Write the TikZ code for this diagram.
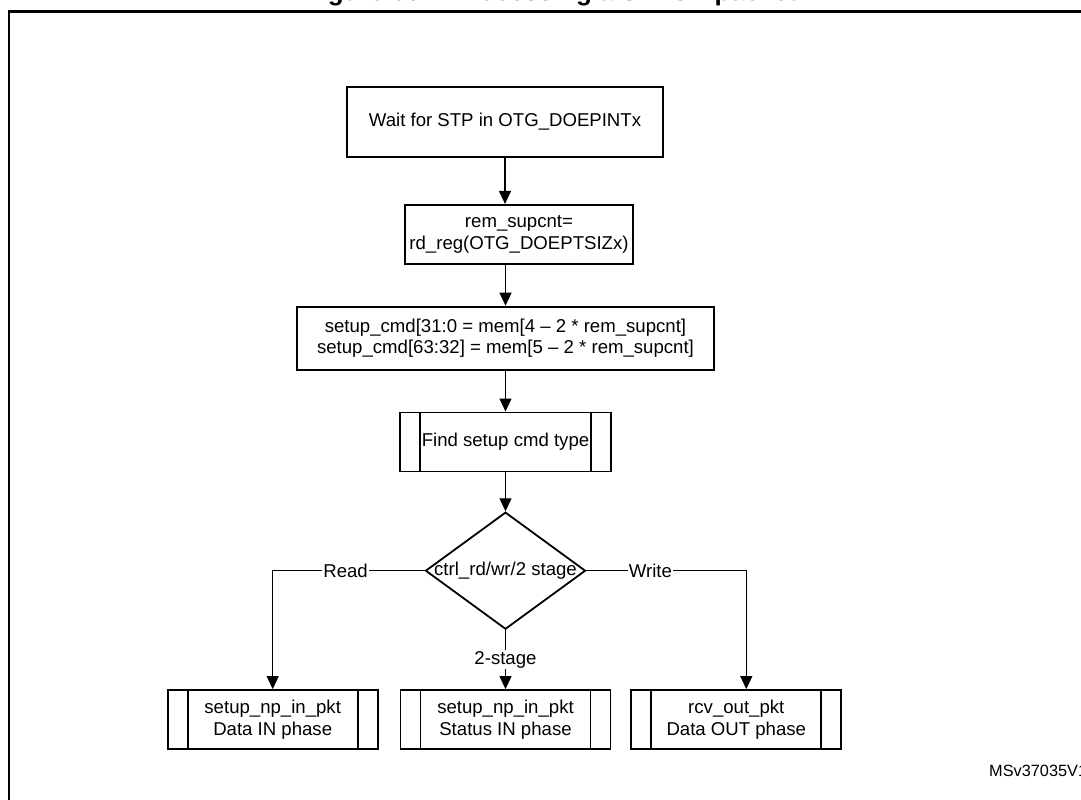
\documentclass[tikz,border=0pt]{standalone}
\usepackage{fontspec}
\setmainfont{Liberation Sans}
\usetikzlibrary{positioning,shapes.geometric,arrows.meta}
\tikzset{>={Triangle[width=12pt,length=13pt]}}
\tikzset{
  box/.style={draw,line width=1.8pt,align=center,inner sep=2pt,
    font=\fontsize{18.6}{21.5}\selectfont},
  subproc/.style={box,path picture={
    \draw[line width=1.8pt]
      ([xshift=20pt]path picture bounding box.north west) --
      ([xshift=20pt]path picture bounding box.south west)
      ([xshift=-20pt]path picture bounding box.north east) --
      ([xshift=-20pt]path picture bounding box.south east);}},
  decision/.style={diamond,draw,line width=1.8pt,inner sep=0pt,
    minimum width=160pt,minimum height=117pt,
    font=\fontsize{18.6}{21.5}\selectfont},
  flow/.style={->,line width=1.2pt},
  lbl/.style={fill=white,inner sep=1pt,font=\fontsize{18.6}{21.5}\selectfont}
}

\begin{document}
\begin{tikzpicture}[x=1pt,y=-1pt]
\useasboundingbox (0,0) rectangle (1081,800);
\draw[line width=2.2pt] (9,11.5) rectangle (1095,815);
\node[anchor=base,font=\bfseries\fontsize{26}{30}\selectfont] (title) at (551,1)
  {Figure 662. Processing a SETUP packet};
\node[box,minimum width=316pt,minimum height=70pt] (wait) at (505,122)
  {Wait for STP in OTG\_DOEPINTx};
\node[box,minimum width=228pt,minimum height=59pt,below=46pt of wait,xshift=14pt] (rdreg)
  {rem\_supcnt=\\rd\_reg(OTG\_DOEPTSIZx)};
\node[box,minimum width=417pt,minimum height=63pt,below=41pt of rdreg,xshift=-13.5pt] (setup)
  {setup\_cmd[31:0 = mem[4 – 2 * rem\_supcnt]\\setup\_cmd[63:32] = mem[5 – 2 * rem\_supcnt]};
\node[subproc,minimum width=211pt,minimum height=59pt,below=41pt of setup] (findcmd)
  {Find setup cmd type};
\node[decision,below=39pt of findcmd] (dia) {\makebox[0pt]{ctrl\_rd/wr/2 stage}};
\node[subproc,minimum width=210pt,minimum height=59pt,below=59pt of dia] (stin)
  {setup\_np\_in\_pkt\\Status IN phase};
\node[subproc,minimum width=210pt,minimum height=59pt,left=21pt of stin] (datain)
  {setup\_np\_in\_pkt\\Data IN phase};
\node[subproc,minimum width=210pt,minimum height=59pt,right=19pt of stin] (dataout)
  {rcv\_out\_pkt\\Data OUT phase};
\node[anchor=base west,inner sep=0pt,font=\fontsize{16.3}{19}\selectfont] (docid) at (989,776)
  {MSv37035V1};

\draw[flow] (wait.south) -- (wait.south |- rdreg.north);
\draw[flow] (setup.north |- rdreg.south) -- (setup.north);
\draw[flow] (setup) -- (findcmd);
\draw[flow] (findcmd) -- (dia);
\draw[flow] (dia) -- node[lbl] {2-stage} (stin);
\draw[flow] (dia.west) -| node[lbl,pos=0.26] {Read} (datain.north);
\draw[flow] (dia.east) -| node[lbl,pos=0.2] {Write} ([xshift=10pt]dataout.north);
\end{tikzpicture}
\end{document}
